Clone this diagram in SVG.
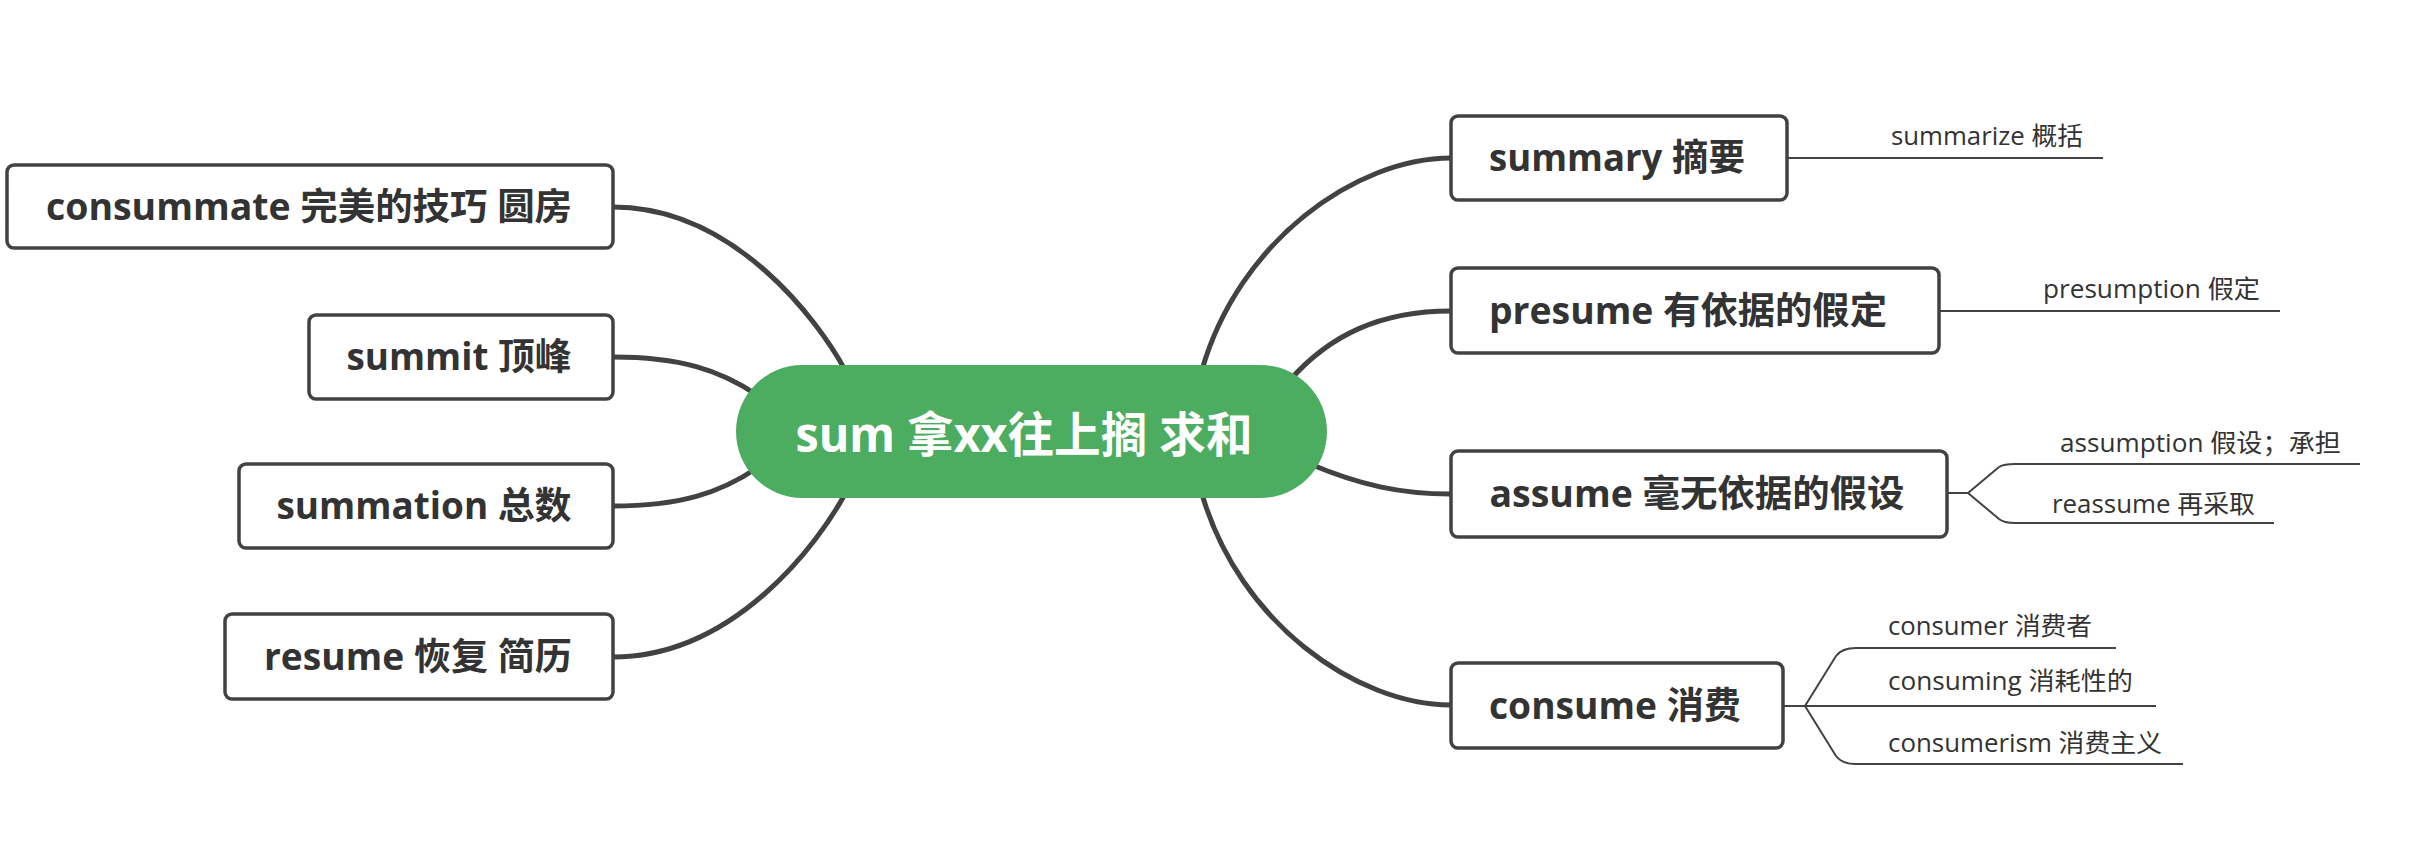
<svg xmlns="http://www.w3.org/2000/svg" width="2422" height="844" viewBox="0 0 2422 844">
<style>
.bg{fill:#ffffff}
.box{fill:#ffffff;stroke:#424242;stroke-width:3.5}
.root{fill:#4CAD60}
.conn{fill:none;stroke:#424242;stroke-width:5;stroke-linecap:round}
.sub{fill:none;stroke:#424242;stroke-width:2}
.t{font-family:"Open Sans","Noto Sans CJK SC",sans-serif;font-weight:700;font-size:37px;fill:#333333;text-anchor:middle}
.rt{font-family:"Open Sans","Noto Sans CJK SC",sans-serif;font-weight:700;font-size:48px;fill:#ffffff;text-anchor:middle}
.s{font-family:"Open Sans","Noto Sans CJK SC",sans-serif;font-weight:400;font-size:25px;fill:#333333}
</style>
<rect class="bg" x="0" y="0" width="2422" height="844"/>
<g id="connectors">
<path class="conn" d="M613,207 C735,207 819,322 845,370"/>
<path class="conn" d="M613,357 C680,357 720,370 757,395"/>
<path class="conn" d="M613,506 C680,506 720,493 757,468"/>
<path class="conn" d="M613,657 C735,657 819,542 845,494"/>
<path class="conn" d="M1451,158 C1356,158 1239,241 1202,370"/>
<path class="conn" d="M1451,311 C1380,311 1330,335 1290,380"/>
<path class="conn" d="M1451,494 C1400,494 1360,485 1310,464"/>
<path class="conn" d="M1451,705 C1356,705 1239,622 1202,494"/>
<path class="sub" d="M1787,158 H2103"/>
<path class="sub" d="M1939,311 H2280"/>
<path class="sub" d="M1947,493 H1968 L1999,467 Q2004,464 2015,464 H2360"/>
<path class="sub" d="M1968,493 L1999,519 Q2004,523 2015,523 H2274"/>
<path class="sub" d="M1783,706 H1805 L1836,656 Q1842,648 1856,648 H2116"/>
<path class="sub" d="M1805,706 H2156"/>
<path class="sub" d="M1805,706 L1836,756 Q1842,764 1856,764 H2183"/>
</g>
<g id="root">
<rect class="root" x="736" y="365" width="591" height="133" rx="66.5" ry="66.5"/>
<text class="rt" x="1024" y="452" textLength="457" lengthAdjust="spacingAndGlyphs">sum 拿xx往上搁 求和</text>
</g>
<g id="node-consummate">
<rect class="box" x="7" y="165" width="606" height="83" rx="7"/>
<text class="t" x="309" y="220" textLength="526" lengthAdjust="spacingAndGlyphs">consummate 完美的技巧 圆房</text>
</g>
<g id="node-summit">
<rect class="box" x="309" y="315" width="304" height="84" rx="7"/>
<text class="t" x="459" y="370" textLength="225" lengthAdjust="spacingAndGlyphs">summit 顶峰</text>
</g>
<g id="node-summation">
<rect class="box" x="239" y="464" width="374" height="84" rx="7"/>
<text class="t" x="424" y="519" textLength="295" lengthAdjust="spacingAndGlyphs">summation 总数</text>
</g>
<g id="node-resume">
<rect class="box" x="225" y="614" width="388" height="85" rx="7"/>
<text class="t" x="418" y="670" textLength="308" lengthAdjust="spacingAndGlyphs">resume 恢复 简历</text>
</g>
<g id="node-summary">
<rect class="box" x="1451" y="116" width="336" height="84" rx="7"/>
<text class="t" x="1617" y="171" textLength="256" lengthAdjust="spacingAndGlyphs">summary 摘要</text>
<text class="s" x="1891" y="145" textLength="192" lengthAdjust="spacingAndGlyphs">summarize 概括</text>
</g>
<g id="node-presume">
<rect class="box" x="1451" y="268" width="488" height="85" rx="7"/>
<text class="t" x="1688" y="324" textLength="398" lengthAdjust="spacingAndGlyphs">presume 有依据的假定</text>
<text class="s" x="2043" y="298" textLength="217" lengthAdjust="spacingAndGlyphs">presumption 假定</text>
</g>
<g id="node-assume">
<rect class="box" x="1451" y="451" width="496" height="86" rx="7"/>
<text class="t" x="1697" y="507" textLength="415" lengthAdjust="spacingAndGlyphs">assume 毫无依据的假设</text>
<text class="s" x="2060" y="452" textLength="281" lengthAdjust="spacingAndGlyphs">assumption 假设；承担</text>
<text class="s" x="2052" y="513" textLength="203" lengthAdjust="spacingAndGlyphs">reassume 再采取</text>
</g>
<g id="node-consume">
<rect class="box" x="1451" y="663" width="332" height="85" rx="7"/>
<text class="t" x="1615" y="719" textLength="252" lengthAdjust="spacingAndGlyphs">consume 消费</text>
<text class="s" x="1888" y="635" textLength="204" lengthAdjust="spacingAndGlyphs">consumer 消费者</text>
<text class="s" x="1888" y="690" textLength="245" lengthAdjust="spacingAndGlyphs">consuming 消耗性的</text>
<text class="s" x="1888" y="752" textLength="274" lengthAdjust="spacingAndGlyphs">consumerism 消费主义</text>
</g>
</svg>
